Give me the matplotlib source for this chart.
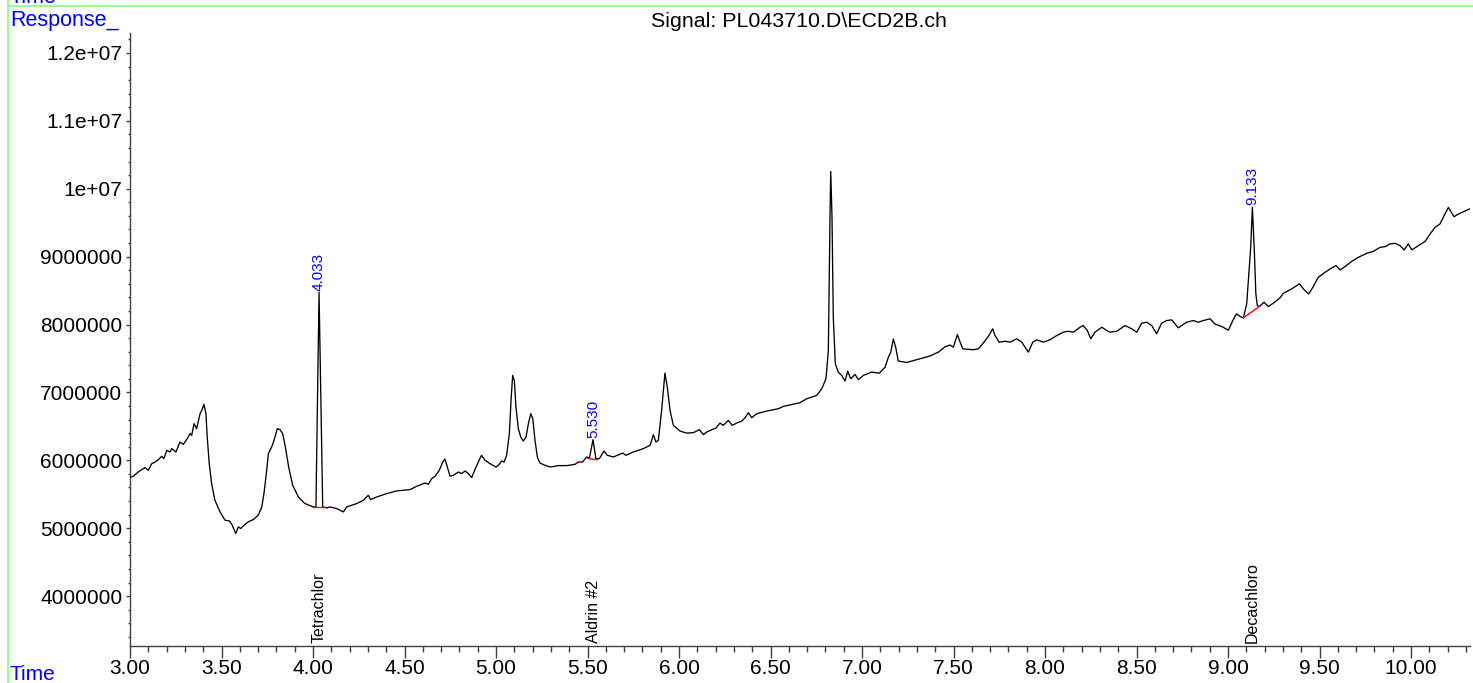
import matplotlib
matplotlib.use('Agg')
import numpy as np
import matplotlib.pyplot as plt
from matplotlib.ticker import MultipleLocator, FixedLocator, FixedFormatter, FormatStrFormatter
from matplotlib.lines import Line2D

# ---------------- data ----------------
time_min = [
    3.000, 3.018, 3.045, 3.064, 3.082, 3.100, 3.119, 3.137, 3.155, 3.173,
    3.185, 3.201, 3.219, 3.228, 3.251, 3.273, 3.291, 3.313, 3.328, 3.337,
    3.350, 3.364, 3.383, 3.392, 3.404, 3.415, 3.422, 3.433, 3.446, 3.464,
    3.492, 3.519, 3.543, 3.556, 3.578, 3.592, 3.605, 3.623, 3.646, 3.674,
    3.701, 3.720, 3.732, 3.747, 3.756, 3.774, 3.787, 3.805, 3.820, 3.834,
    3.849, 3.867, 3.889, 3.920, 3.956, 4.002, 4.016, 4.033, 4.053, 4.075,
    4.093, 4.129, 4.166, 4.184, 4.239, 4.275, 4.302, 4.315, 4.348, 4.403,
    4.457, 4.530, 4.567, 4.612, 4.630, 4.649, 4.667, 4.690, 4.709, 4.721,
    4.734, 4.749, 4.767, 4.794, 4.812, 4.831, 4.849, 4.867, 4.891, 4.909,
    4.921, 4.940, 4.967, 5.000, 5.018, 5.031, 5.044, 5.058, 5.073, 5.082,
    5.091, 5.100, 5.109, 5.122, 5.135, 5.149, 5.164, 5.177, 5.190, 5.201,
    5.213, 5.226, 5.240, 5.268, 5.299, 5.340, 5.386, 5.432, 5.450, 5.473,
    5.495, 5.510, 5.530, 5.546, 5.565, 5.590, 5.608, 5.641, 5.692, 5.710,
    5.750, 5.805, 5.842, 5.860, 5.874, 5.887, 5.905, 5.923, 5.936, 5.951,
    5.969, 6.005, 6.042, 6.078, 6.111, 6.133, 6.151, 6.179, 6.202, 6.224,
    6.242, 6.269, 6.291, 6.315, 6.343, 6.361, 6.379, 6.397, 6.425, 6.479,
    6.543, 6.570, 6.661, 6.698, 6.752, 6.780, 6.803, 6.816, 6.825, 6.829,
    6.836, 6.843, 6.854, 6.870, 6.889, 6.907, 6.922, 6.938, 6.962, 6.980,
    7.007, 7.053, 7.095, 7.126, 7.144, 7.157, 7.171, 7.184, 7.198, 7.244,
    7.298, 7.372, 7.417, 7.454, 7.481, 7.499, 7.521, 7.536, 7.550, 7.608,
    7.636, 7.662, 7.690, 7.714, 7.727, 7.749, 7.781, 7.809, 7.845, 7.873,
    7.909, 7.933, 7.954, 7.991, 8.027, 8.064, 8.100, 8.127, 8.155, 8.191,
    8.209, 8.231, 8.250, 8.273, 8.310, 8.337, 8.355, 8.392, 8.437, 8.474,
    8.501, 8.528, 8.556, 8.583, 8.610, 8.637, 8.665, 8.692, 8.728, 8.774,
    8.810, 8.838, 8.865, 8.902, 8.929, 8.966, 9.002, 9.026, 9.046, 9.067,
    9.084, 9.102, 9.124, 9.133, 9.143, 9.152, 9.160, 9.171, 9.197, 9.220,
    9.247, 9.284, 9.302, 9.348, 9.390, 9.415, 9.441, 9.466, 9.493, 9.530,
    9.567, 9.590, 9.612, 9.639, 9.676, 9.712, 9.758, 9.794, 9.831, 9.858,
    9.885, 9.913, 9.940, 9.962, 9.985, 10.004, 10.040, 10.077, 10.104, 10.131,
    10.158, 10.176, 10.204, 10.235, 10.259, 10.306, 10.330,
]

response_e6 = [
    5.750, 5.765, 5.828, 5.863, 5.893, 5.853, 5.951, 5.975, 6.010, 6.059,
    6.025, 6.147, 6.122, 6.172, 6.122, 6.269, 6.235, 6.319, 6.393, 6.368,
    6.540, 6.466, 6.687, 6.735, 6.824, 6.687, 6.343, 5.951, 5.657, 5.412,
    5.240, 5.118, 5.107, 5.059, 4.922, 5.019, 4.996, 5.044, 5.093, 5.128,
    5.191, 5.313, 5.510, 5.853, 6.099, 6.196, 6.294, 6.466, 6.451, 6.393,
    6.196, 5.901, 5.632, 5.460, 5.363, 5.313, 5.313, 8.471, 5.313, 5.299,
    5.313, 5.290, 5.240, 5.313, 5.363, 5.412, 5.485, 5.422, 5.460, 5.510,
    5.549, 5.569, 5.618, 5.666, 5.647, 5.731, 5.765, 5.853, 5.975, 6.019,
    5.901, 5.765, 5.779, 5.828, 5.804, 5.843, 5.804, 5.746, 5.901, 6.010,
    6.074, 6.000, 5.951, 5.901, 5.941, 5.990, 5.975, 6.074, 6.393, 6.882,
    7.250, 7.176, 6.784, 6.466, 6.343, 6.284, 6.343, 6.540, 6.687, 6.613,
    6.294, 6.049, 5.960, 5.926, 5.901, 5.922, 5.922, 5.941, 5.975, 5.975,
    6.049, 6.029, 6.304, 6.019, 6.025, 6.137, 6.074, 6.049, 6.107, 6.074,
    6.122, 6.172, 6.221, 6.378, 6.269, 6.294, 6.735, 7.284, 7.078, 6.735,
    6.515, 6.431, 6.401, 6.407, 6.451, 6.378, 6.416, 6.451, 6.475, 6.549,
    6.515, 6.588, 6.515, 6.549, 6.578, 6.628, 6.701, 6.628, 6.687, 6.725,
    6.760, 6.794, 6.849, 6.907, 6.956, 7.054, 7.201, 7.618, 9.578, 10.254,
    9.578, 8.107, 7.422, 7.299, 7.250, 7.166, 7.313, 7.201, 7.265, 7.187,
    7.250, 7.299, 7.284, 7.372, 7.519, 7.593, 7.787, 7.666, 7.463, 7.441,
    7.482, 7.537, 7.593, 7.672, 7.699, 7.666, 7.853, 7.740, 7.643, 7.628,
    7.643, 7.725, 7.824, 7.937, 7.838, 7.740, 7.754, 7.740, 7.790, 7.740,
    7.593, 7.740, 7.775, 7.740, 7.775, 7.838, 7.887, 7.901, 7.887, 7.960,
    7.985, 7.912, 7.790, 7.887, 7.960, 7.912, 7.887, 7.901, 7.985, 7.937,
    7.887, 8.019, 8.034, 7.985, 7.863, 8.019, 8.059, 8.069, 7.951, 8.034,
    8.059, 8.034, 8.059, 8.084, 8.007, 7.971, 7.916, 8.059, 8.157, 8.118,
    8.099, 8.304, 9.137, 9.725, 9.137, 8.451, 8.279, 8.265, 8.328, 8.265,
    8.313, 8.393, 8.460, 8.525, 8.599, 8.515, 8.451, 8.559, 8.696, 8.769,
    8.834, 8.868, 8.804, 8.853, 8.931, 8.990, 9.049, 9.078, 9.137, 9.147,
    9.187, 9.196, 9.162, 9.099, 9.187, 9.099, 9.162, 9.225, 9.334, 9.431,
    9.481, 9.578, 9.725, 9.588, 9.628, 9.687, 9.713,
]

# integrated peaks
peak_rt = [4.033, 5.530, 9.133]
peak_labels = ["4.033", "5.530", "9.133"]
compound_names = ["Tetrachlor", "Aldrin #2", "Decachloro"]
baseline_t0 = [4.001, 5.504, 9.084]
baseline_t1 = [4.056, 5.553, 9.171]
baseline_v0_e6 = [5.305, 6.025, 8.099]
baseline_v1_e6 = [5.305, 6.010, 8.265]

x_ticks = [3.0, 3.5, 4.0, 4.5, 5.0, 5.5, 6.0, 6.5, 7.0, 7.5, 8.0, 8.5, 9.0, 9.5, 10.0]
y_ticks = [4e6, 5e6, 6e6, 7e6, 8e6, 9e6, 1e7, 1.1e7, 1.2e7]
y_tick_labels = ["4000000", "5000000", "6000000", "7000000", "8000000",
                 "9000000", "1e+07", "1.1e+07", "1.2e+07"]

title = "Signal: PL043710.D\\ECD2B.ch"

# ---------------- plot ----------------
plt.rcParams['font.family'] = ['Liberation Sans', 'DejaVu Sans']

W, H = 1473, 683
fig = plt.figure(figsize=(W / 100, H / 100), dpi=100)
ax = fig.add_axes([130 / W, 37 / H, 1339.6 / W, 613 / H])

t = np.array(time_min)
resp = np.array(response_e6) * 1e6

ax.plot(t, resp, color='black', lw=0.95, zorder=3, solid_joinstyle='round')

for t0, t1, v0, v1 in zip(baseline_t0, baseline_t1, baseline_v0_e6, baseline_v1_e6):
    ax.plot([t0, t1], [v0 * 1e6, v1 * 1e6], color='red', lw=1.0, zorder=4)

ax.set_xlim(3.0, 10.32)
ax.set_ylim(3.265e6, 12.294e6)

for rt, lab, name in zip(peak_rt, peak_labels, compound_names):
    top = np.interp(rt, t, resp)
    ax.annotate(lab, xy=(rt, top), xytext=(0, 2), textcoords='offset pixels',
                rotation=90, ha='center', va='bottom', color='#0000ff', fontsize=11)
    ax.annotate(name, xy=(rt, 3.265e6), xytext=(0, 3), textcoords='offset pixels',
                rotation=90, ha='center', va='bottom', color='black', fontsize=11.5)

for side in ['top', 'right']:
    ax.spines[side].set_visible(False)
for side in ['left', 'bottom']:
    ax.spines[side].set_color('#404040')
    ax.spines[side].set_linewidth(1.0)

ax.xaxis.set_major_locator(FixedLocator(x_ticks))
ax.xaxis.set_major_formatter(FormatStrFormatter('%.2f'))
ax.xaxis.set_minor_locator(MultipleLocator(0.1))
ax.yaxis.set_major_locator(FixedLocator(y_ticks))
ax.yaxis.set_major_formatter(FixedFormatter(y_tick_labels))
ax.yaxis.set_minor_locator(MultipleLocator(2e5))

ax.tick_params(axis='x', which='major', direction='out', length=8.4, width=1,
               color='#404040', labelsize=15, pad=1)
ax.tick_params(axis='x', which='minor', direction='out', length=4.3, width=1,
               color='#404040')
ax.tick_params(axis='y', which='major', direction='out', length=3, width=1,
               color='#404040', labelsize=15, pad=2.5)
ax.tick_params(axis='y', which='minor', direction='out', length=1.5, width=1,
               color='#404040')

# header / footer texts
fig.text(799 / W, 1 - 27 / H, title, ha='center', va='baseline', fontsize=15.4)
fig.text(10 / W, 1 - 26 / H, "Response_", ha='left', va='baseline',
         fontsize=15.5, color='#0000ff')
fig.text(10 / W, 3 / H, "Time", ha='left', va='baseline', fontsize=15, color='#0000ff')
fig.text(10 / W, 1 - 2.7 / H, "Time", ha='left', va='baseline', fontsize=15.5, color='#0000ff')

# green frame lines
fig.add_artist(Line2D([8 / W, 8 / W], [0, 1], transform=fig.transFigure,
                      color='#80ff80', lw=1.2))
fig.add_artist(Line2D([8 / W, 1], [1 - 6 / H, 1 - 6 / H], transform=fig.transFigure,
                      color='#80ff80', lw=1.2))

fig.savefig('out.png', dpi=100)
